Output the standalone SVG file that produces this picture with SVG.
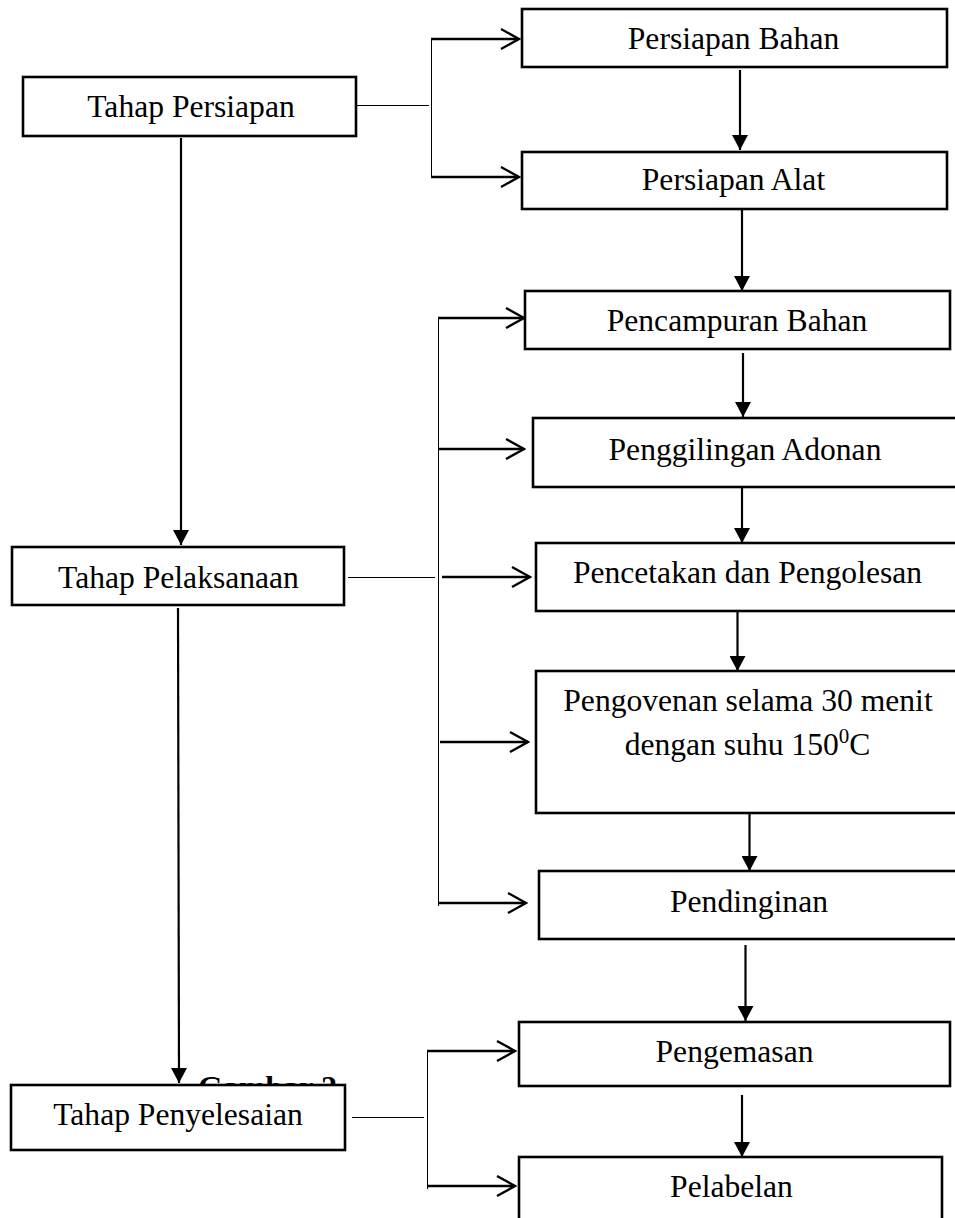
<svg xmlns="http://www.w3.org/2000/svg" width="955" height="1218" viewBox="0 0 955 1218">
<style>
.box{fill:#fff;stroke:#000;stroke-width:2.6}
.t{font-family:"Liberation Serif","Times New Roman",serif;font-size:31.6px;fill:#000;text-anchor:middle}
.thin{stroke:#000;stroke-width:1.3;fill:none;shape-rendering:crispEdges}
.down{stroke:#000;stroke-width:2.2;fill:none;marker-end:url(#tri)}
.side{stroke:#000;stroke-width:2.4;fill:none;marker-end:url(#chev)}
</style>
<defs>
<marker id="tri" viewBox="0 0 15 16" refX="15" refY="8" markerWidth="15" markerHeight="16" markerUnits="userSpaceOnUse" orient="auto">
<path d="M0,0 L15,8 L0,16 Z" fill="#000"/>
</marker>
<marker id="chev" viewBox="-2 -2 22 24" refX="18" refY="10" markerWidth="22" markerHeight="24" markerUnits="userSpaceOnUse" orient="auto">
<path d="M0,0 L18,10 L0,20" fill="none" stroke="#000" stroke-width="2.4"/>
</marker>
</defs>
<rect width="955" height="1218" fill="#fff"/>

<g id="caption">
<text x="198" y="1098" style="font-family:'Liberation Serif','Times New Roman',serif;font-size:32px;font-weight:bold">Gambar 2</text>
</g>

<g id="connectors">
<path class="down" d="M181,138 L181,545"/>
<path class="down" d="M178,608 L179,1083"/>
<path class="thin" d="M357,105.5 L429,105.5"/>
<path class="thin" d="M431.5,39 L431.5,177"/>
<path class="side" d="M431,39 L519,39"/>
<path class="side" d="M431,177 L519,177"/>
<path class="thin" d="M348,577.5 L435,577.5"/>
<path class="thin" d="M438.5,318 L438.5,906"/>
<path class="side" d="M438,318 L524,318"/>
<path class="side" d="M438,449 L524,449"/>
<path class="side" d="M442,577 L530,577"/>
<path class="side" d="M440,742 L528,742"/>
<path class="side" d="M438,903 L526,903"/>
<path class="thin" d="M352,1117.5 L424,1117.5"/>
<path class="thin" d="M427.5,1051 L427.5,1189"/>
<path class="side" d="M427,1051 L515,1051"/>
<path class="side" d="M427,1186 L515,1186"/>
<path class="down" d="M740,70 L740,150"/>
<path class="down" d="M742,210 L742,291"/>
<path class="down" d="M743,353 L743,417"/>
<path class="down" d="M742,483 L742,543"/>
<path class="down" d="M737.5,612 L737.5,671"/>
<path class="down" d="M749.5,814 L749.5,871"/>
<path class="down" d="M745.5,945 L745.5,1021"/>
<path class="down" d="M742,1095 L742,1157"/>
</g>

<g id="tahap-persiapan">
<rect class="box" x="23" y="77" width="333" height="59"/>
<text class="t" x="191" y="117">Tahap Persiapan</text>
</g>
<g id="tahap-pelaksanaan">
<rect class="box" x="12" y="547" width="332" height="58"/>
<text class="t" x="178.5" y="588">Tahap Pelaksanaan</text>
</g>
<g id="tahap-penyelesaian">
<rect class="box" x="11" y="1085" width="334" height="65"/>
<text class="t" x="178" y="1125">Tahap Penyelesaian</text>
</g>

<g id="persiapan-bahan">
<rect class="box" x="522" y="9" width="425" height="58"/>
<text class="t" x="733.5" y="49">Persiapan Bahan</text>
</g>
<g id="persiapan-alat">
<rect class="box" x="522" y="152" width="425" height="57"/>
<text class="t" x="733.5" y="190">Persiapan Alat</text>
</g>
<g id="pencampuran-bahan">
<rect class="box" x="525" y="291" width="425" height="58"/>
<text class="t" x="737" y="331">Pencampuran Bahan</text>
</g>
<g id="penggilingan-adonan">
<rect class="box" x="533" y="418" width="430" height="69"/>
<text class="t" x="745" y="460">Penggilingan Adonan</text>
</g>
<g id="pencetakan-pengolesan">
<rect class="box" x="536" y="543" width="430" height="68"/>
<text class="t" x="747.5" y="583">Pencetakan dan Pengolesan</text>
</g>
<g id="pengovenan">
<rect class="box" x="536" y="671" width="430" height="142"/>
<text class="t" x="748" y="711">Pengovenan selama 30 menit</text>
<text class="t" x="747.5" y="755">dengan suhu 150<tspan font-size="21" dy="-12">0</tspan><tspan dy="12">C</tspan></text>
</g>
<g id="pendinginan">
<rect class="box" x="539" y="871" width="430" height="68"/>
<text class="t" x="749" y="912">Pendinginan</text>
</g>
<g id="pengemasan">
<rect class="box" x="519" y="1022" width="431" height="64"/>
<text class="t" x="734.5" y="1062">Pengemasan</text>
</g>
<g id="pelabelan">
<rect class="box" x="519" y="1157" width="423" height="80"/>
<text class="t" x="731.5" y="1197">Pelabelan</text>
</g>
</svg>
